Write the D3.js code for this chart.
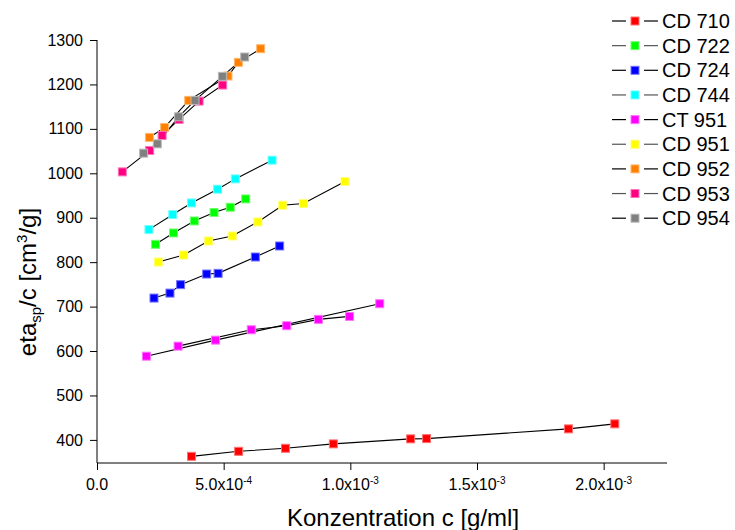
<!DOCTYPE html>
<html><head><meta charset="utf-8">
<script src="https://cdn.jsdelivr.net/npm/d3@7"></script>
<style>
body{margin:0;background:#fff}
svg{display:block}
text{font-family:"Liberation Sans",Arial,Helvetica,sans-serif;fill:#000}
</style>
</head><body>
<svg id="chart" width="735" height="530"></svg>
<script>
// ---------- data ----------
const seriesNames  = ["CD 710","CD 722","CD 724","CD 744","CT 951","CD 951","CD 952","CD 953","CD 954"];
const seriesColors = ["#FF0000","#00FF00","#0000FF","#00FFFF","#FF00FF","#FFFF00","#FF8000","#FF0080","#808080"];

// concentration [g/ml] and eta_sp/c [cm3/g]
const concCD710 = [3.73e-4,5.59e-4,7.44e-4,9.33e-4,1.238e-3,1.301e-3,1.861e-3,2.044e-3];
const etaCD710  = [363.0,374.3,381.1,391.0,402.3,402.9,424.8,436.1];

const concCD722 = [2.31e-4,3.02e-4,3.84e-4,4.62e-4,5.26e-4,5.87e-4];
const etaCD722  = [840.2,865.7,892.7,911.7,923.6,942.3];

const concCD724 = [2.25e-4,2.88e-4,3.30e-4,4.33e-4,4.78e-4,6.25e-4,7.21e-4];
const etaCD724  = [719.2,730.4,749.4,773.3,774.8,811.6,836.4];

const concCD744 = [2.05e-4,2.99e-4,3.73e-4,4.76e-4,5.46e-4,6.91e-4];
const etaCD744  = [873.3,907.1,933.3,964.2,987.4,1029.5];

// CT 951 was measured in two runs (same colour, one legend entry)
const concCT951a = [1.95e-4,4.68e-4,1.116e-3];
const etaCT951a  = [588.4,624.5,706.5];
const concCT951b = [3.20e-4,6.09e-4,7.49e-4,8.74e-4,9.97e-4];
const etaCT951b  = [611.0,647.9,657.0,671.2,677.9];

const concCD951 = [2.42e-4,3.42e-4,4.40e-4,5.34e-4,6.35e-4,7.33e-4,8.15e-4,9.79e-4];
const etaCD951  = [800.3,816.1,847.6,858.9,890.5,928.1,931.9,981.5];

const concCD952 = [2.07e-4,2.67e-4,3.62e-4,5.17e-4,5.58e-4,6.46e-4];
const etaCD952  = [1080.7,1103.2,1164.1,1218.9,1249.7,1280.4];

const concCD953 = [1.00e-4,2.08e-4,2.57e-4,3.24e-4,4.03e-4,4.96e-4];
const etaCD953  = [1003.2,1051.4,1085.2,1121.3,1162.5,1198.6];

const concCD954 = [1.84e-4,2.38e-4,3.22e-4,3.87e-4,4.95e-4,5.83e-4];
const etaCD954  = [1045.3,1066.3,1127.1,1164.1,1218.2,1261.7];

const xMajorTicks = [0,5e-4,1e-3,1.5e-3,2e-3];
const xMinorTicks = [2.5e-4,7.5e-4,1.25e-3,1.75e-3,2.25e-3];
const xTickMantissa = ["0.0","5.0x10","1.0x10","1.5x10","2.0x10"];
const xTickExponent = ["","-4","-3","-3","-3"];
const yMajorTicks = [400,500,600,700,800,900,1000,1100,1200,1300];
const yMinorTicks = [350,450,550,650,750,850,950,1050,1150,1250];

const xTitle = "Konzentration c [g/ml]";

// ---------- build series table ----------
const runsBySeries = [
  [[concCD710,etaCD710]],
  [[concCD722,etaCD722]],
  [[concCD724,etaCD724]],
  [[concCD744,etaCD744]],
  [[concCT951a,etaCT951a],[concCT951b,etaCT951b]],
  [[concCD951,etaCD951]],
  [[concCD952,etaCD952]],
  [[concCD953,etaCD953]],
  [[concCD954,etaCD954]]
];
const series = seriesNames.map((name,i)=>({
  name, color: seriesColors[i],
  runs: runsBySeries[i].map(([cs,es])=>cs.map((c,k)=>({c, e: es[k]})))
}));

// ---------- chart ----------
const svg = d3.select("#chart");
const x = d3.scaleLinear().domain([0,2.25e-3]).range([97,667]);
const y = d3.scaleLinear().domain([348,1300]).range([463,40]);

const axisColor = "#000";

// x axis
const gx = svg.append("g").attr("transform",`translate(0,${y.range()[0]})`);
gx.call(d3.axisBottom(x).tickValues(xMinorTicks).tickSize(4).tickFormat(""));
gx.call(d3.axisBottom(x).tickValues(xMajorTicks).tickSize(7).tickFormat(""));
gx.selectAll("path.domain").attr("stroke",axisColor).attr("d",`M${x.range()[0]},0H${x.range()[1]}`);
gx.selectAll("line").attr("stroke",axisColor);
xMajorTicks.forEach((v,i)=>{
  const t = gx.append("text").attr("x",x(v)).attr("y",27)
    .attr("text-anchor","middle").attr("font-size",16);
  t.append("tspan").text(xTickMantissa[i]);
  if (xTickExponent[i]) t.append("tspan").attr("font-size",10).attr("dy",-6).text(xTickExponent[i]);
});

// y axis
const gy = svg.append("g").attr("transform",`translate(${x.range()[0]},0)`);
gy.call(d3.axisLeft(y).tickValues(yMinorTicks).tickSize(4).tickFormat(""));
gy.call(d3.axisLeft(y).tickValues(yMajorTicks).tickSize(7).tickFormat(d3.format("d")));
gy.selectAll("path.domain").attr("stroke",axisColor).attr("d",`M0,${y.range()[0]}V${y.range()[1]}`);
gy.selectAll("line").attr("stroke",axisColor);
gy.selectAll("text").attr("font-size",16).attr("font-family",null).attr("fill","#000").attr("x",-14);

// axis titles
svg.append("text").attr("x",403).attr("y",526).attr("text-anchor","middle")
  .attr("font-size",24).text(xTitle);

const yt = svg.append("text").attr("transform","translate(36,282) rotate(-90)")
  .attr("text-anchor","middle").attr("font-size",24);
yt.append("tspan").text("eta");
yt.append("tspan").attr("font-size",15).attr("dy",5).text("sp");
yt.append("tspan").attr("dy",-5).text("/c [cm");
yt.append("tspan").attr("font-size",15).attr("dy",-9).text("3");
yt.append("tspan").attr("dy",9).text("/g]");

// data lines + markers
const line = d3.line().x(d=>x(d.c)).y(d=>y(d.e));
const gData = svg.append("g");
series.forEach(s=>{
  s.runs.forEach(r=>{
    gData.append("path").datum(r).attr("d",line)
      .attr("fill","none").attr("stroke","#000").attr("stroke-width",1.1);
  });
});
const ms = 8;
series.forEach(s=>{
  const edge = d3.interpolateRgb(s.color,"#fff")(0.45);
  s.runs.forEach(r=>{
    gData.selectAll(null).data(r).enter().append("rect")
      .attr("x",d=>x(d.c)-ms/2).attr("y",d=>y(d.e)-ms/2)
      .attr("width",ms).attr("height",ms)
      .attr("fill",s.color).attr("stroke",edge).attr("stroke-width",1);
  });
});

// legend
const leg = svg.append("g");
series.forEach((s,i)=>{
  const cy = 21 + i*24.65;
  const lc = i%2 ? "#555" : "#000";
  leg.append("line").attr("x1",612).attr("x2",626).attr("y1",cy).attr("y2",cy).attr("stroke",lc).attr("stroke-width",1.2);
  leg.append("line").attr("x1",644).attr("x2",658).attr("y1",cy).attr("y2",cy).attr("stroke",lc).attr("stroke-width",1.2);
  leg.append("rect").attr("x",631).attr("y",cy-4).attr("width",8).attr("height",8)
    .attr("fill",s.color).attr("stroke",d3.interpolateRgb(s.color,"#fff")(0.45));
  leg.append("text").attr("x",662).attr("y",cy+7).attr("font-size",20).text(s.name);
});
</script>
</body></html>
